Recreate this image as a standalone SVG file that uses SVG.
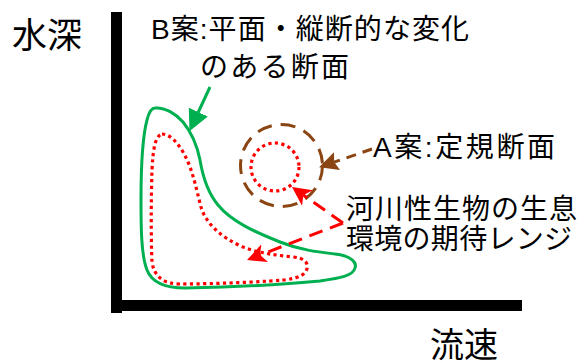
<svg xmlns="http://www.w3.org/2000/svg" width="584" height="363" viewBox="0 0 584 363">
  <style>
    .t { font-family: "Liberation Sans", "Noto Sans CJK JP", sans-serif; fill: #000; }
    .lbl { font-size: 28px; }
    .ax { font-size: 35px; }
    .conn { fill: none; stroke-width: 3; }
  </style>
  <defs>
    <marker id="hg" markerUnits="userSpaceOnUse" markerWidth="22" markerHeight="22" viewBox="0 -11 22 22" refX="1" refY="0" orient="auto">
      <path d="M0,-10.5 L21,0 L0,10.5 Z" fill="#00B050"/>
    </marker>
    <marker id="hr" markerUnits="userSpaceOnUse" markerWidth="20" markerHeight="20" viewBox="0 -10 20 20" refX="5" refY="0" orient="auto">
      <path d="M0,-9.5 L19,0 L0,9.5 L5,0 Z" fill="#FF0000"/>
    </marker>
    <marker id="hb" markerUnits="userSpaceOnUse" markerWidth="20" markerHeight="20" viewBox="0 -10 20 20" refX="3" refY="0" orient="auto">
      <path d="M0,-9.5 L19,0 L0,9.5 L3,0 Z" fill="#8B4513"/>
    </marker>
  </defs>

  <g id="axes">
    <rect x="111" y="12" width="11" height="301" fill="#000"/>
    <rect x="111" y="300" width="411" height="11" fill="#000"/>
    <text class="t ax" x="12" y="48">水深</text>
    <text class="t" style="font-size:34px" x="430" y="357">流速</text>
  </g>

  <g id="regionB">
    <path d="M155,108 C165,107 176,114 183,122 C192,133 197,145 200,160 C203,178 208,193 218,205 C232,222 255,232 280,242 C300,250 318,252 335,254 C352,256 357,263 355,268 C353,276 340,278 320,281 C280,285 230,287 185,288 C165,288 152,283 147,270 C141,255 141,225 141,200 C141,165 143,135 147,120 C149,112 152,108 155,108 Z" fill="none" stroke="#00B050" stroke-width="3"/>
  </g>

  <g id="rangeB">
    <path d="M162,134 C172,134 182,148 188,162 C194,176 197,192 201,207 C206,224 222,238 243,247 C258,253 275,255 293,257 C305,258 310,264 306,271 C302,278 290,280 270,281 C240,283 200,284 180,284 C163,284 154,276 152,262 C151,240 151,200 152,170 C153,150 155,136 162,134 Z" fill="none" stroke="#FF0000" stroke-width="3.2" stroke-dasharray="3.2 3.4"/>
  </g>

  <g id="regionA">
    <circle cx="281.5" cy="165.5" r="41" fill="none" stroke="#8B4513" stroke-width="3" stroke-dasharray="15 9"/>
  </g>

  <g id="rangeA">
    <circle cx="275" cy="167" r="24" fill="none" stroke="#FF0000" stroke-width="3.2" stroke-dasharray="3.2 3.4"/>
  </g>

  <g id="labelB">
    <text class="t lbl" x="151" y="39" textLength="318" lengthAdjust="spacing">B案:平面・縦断的な変化</text>
    <text class="t lbl" x="200" y="77" textLength="149" lengthAdjust="spacing">のある断面</text>
  </g>

  <g id="labelA">
    <text class="t lbl" x="373" y="157" textLength="182" lengthAdjust="spacing">A案:定規断面</text>
  </g>

  <g id="labelRange">
    <text class="t lbl" x="346" y="219" textLength="231" lengthAdjust="spacing">河川性生物の生息</text>
    <text class="t lbl" x="346" y="249" textLength="226" lengthAdjust="spacing">環境の期待レンジ</text>
  </g>

  <g id="connectors">
    <path class="conn" d="M210,87 L197.9,113" stroke="#00B050" marker-end="url(#hg)"/>
    <path class="conn" d="M372,149 L334.2,162.1" stroke="#8B4513" stroke-dasharray="10 7" marker-end="url(#hb)"/>
    <path class="conn" d="M343,223 L303.4,195.1" stroke="#FF0000" stroke-dasharray="14 8" marker-end="url(#hr)"/>
    <path class="conn" d="M343,223 L260.1,255" stroke="#FF0000" stroke-dasharray="14 8" marker-end="url(#hr)"/>
  </g>
</svg>
